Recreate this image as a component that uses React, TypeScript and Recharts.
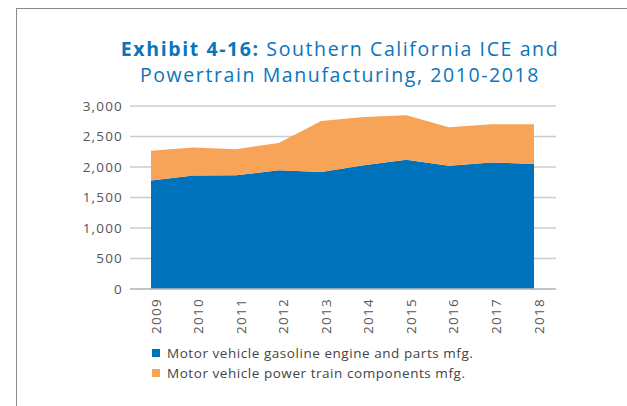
import React from 'react';
import { AreaChart, Area, XAxis, YAxis, CartesianGrid } from 'recharts';

const years = ['2009', '2010', '2011', '2012', '2013', '2014', '2015', '2016', '2017', '2018'];
const gasolineEngine = [1780, 1860, 1865, 1945, 1920, 2030, 2120, 2020, 2075, 2050];
const powerTrain = [485, 460, 425, 450, 835, 790, 730, 630, 625, 650];
const yTicks = [0, 500, 1000, 1500, 2000, 2500, 3000];

const seriesNames = ['Motor vehicle gasoline engine and parts mfg.', 'Motor vehicle power train components mfg.'];
const colors = ['#0071bb', '#f7a358'];

const data = years.map((y, i) => ({ year: y, gas: gasolineEngine[i], pt: powerTrain[i] }));

const FONT = '"Open Sans", sans-serif';

const XTick = (props: any) => {
  const { x, y, payload } = props;
  return (
    <text
      x={x}
      y={y}
      transform={`rotate(-90, ${x}, ${y})`}
      textAnchor="end"
      dy={9.5}
      fill="#555"
      fontSize={13.5}
      letterSpacing={1.3}
      fontFamily={FONT}
    >
      {payload.value}
    </text>
  );
};

const YTick = (props: any) => {
  const { x, y, payload } = props;
  return (
    <text x={x} y={y} textAnchor="end" dy={4.5} fill="#555" fontSize={13.5} letterSpacing={1.2} fontFamily={FONT}>
      {Number(payload.value).toLocaleString('en-US')}
    </text>
  );
};

export default function App() {
  return (
    <div style={{ position: 'absolute', left: 0, top: 0, width: 627, height: 406, background: '#fff', overflow: 'hidden' }}>
      <div style={{ position: 'absolute', left: 16, top: 8, width: 627, height: 420, borderLeft: '1.5px solid #8a8a8a', borderTop: '1.5px solid #8a8a8a' }} />
      <div
        style={{
          position: 'absolute',
          left: 90,
          width: 500,
          top: 36,
          textAlign: 'center',
          color: '#0a74bd',
          fontFamily: FONT,
          fontSize: 19.5,
          letterSpacing: '1.6px',
          lineHeight: '26px',
        }}
      >
        <span style={{ fontWeight: 700 }}>Exhibit 4-16:</span> Southern California ICE and
        <br />
        Powertrain Manufacturing, 2010-2018
      </div>
      <div style={{ position: 'absolute', left: 0, top: 0 }}>
        <AreaChart width={627} height={406} data={data} margin={{ top: 106, right: 71, left: 0, bottom: 0 }}>
          <CartesianGrid vertical={false} stroke="#cccccc" strokeWidth={1.5} />
          <XAxis
            dataKey="year"
            height={117}
            padding={{ left: 21, right: 22 }}
            tickLine={false}
            axisLine={{ stroke: '#bbbbbb', strokeWidth: 1.5 }}
            tick={<XTick />}
            tickSize={0}
            tickMargin={9}
            interval={0}
          />
          <YAxis
            width={130}
            domain={[0, 3000]}
            ticks={yTicks}
            axisLine={false}
            tickLine={false}
            tickSize={0}
            tickMargin={7}
            tick={<YTick />}
          />
          <Area type="linear" dataKey="gas" stackId="1" stroke="none" fill={colors[0]} fillOpacity={1} isAnimationActive={false} />
          <Area type="linear" dataKey="pt" stackId="1" stroke="none" fill={colors[1]} fillOpacity={1} isAnimationActive={false} />
        </AreaChart>
      </div>
      <div style={{ position: 'absolute', left: 152, top: 343, fontFamily: FONT, fontSize: 13.5, letterSpacing: '0.55px', color: '#444', lineHeight: '20px' }}>
        {seriesNames.map((n, i) => (
          <div key={n} style={{ display: 'flex', alignItems: 'center' }}>
            <span style={{ display: 'inline-block', width: 8, height: 8, background: colors[i], marginRight: 7 }} />
            {n}
          </div>
        ))}
      </div>
    </div>
  );
}
